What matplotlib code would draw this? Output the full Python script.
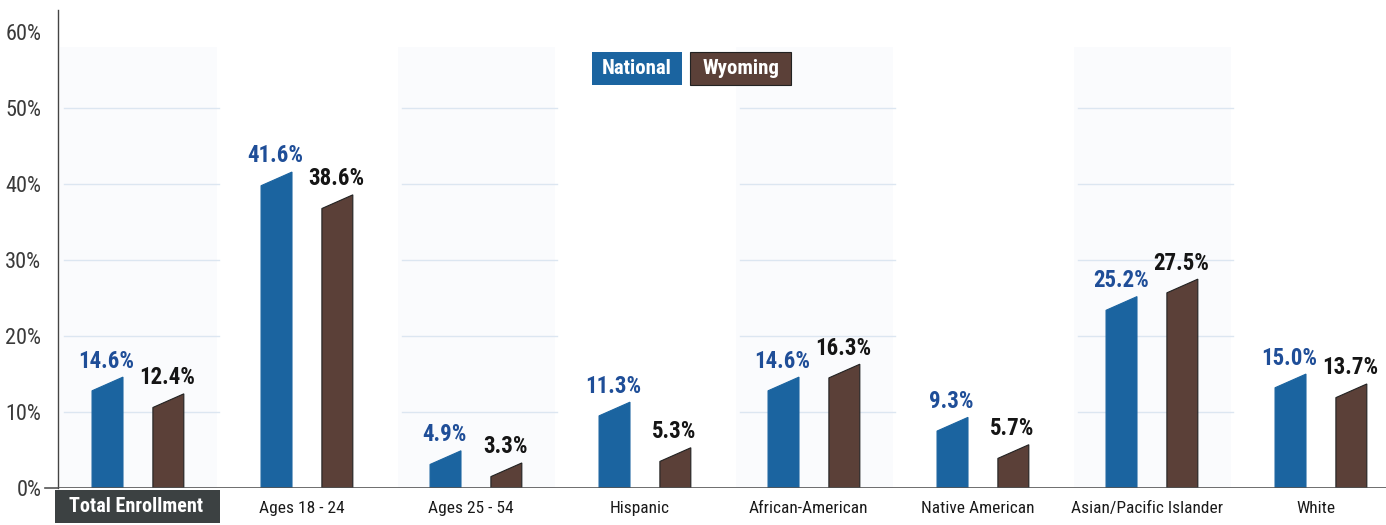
import matplotlib
matplotlib.use("Agg")
import matplotlib.pyplot as plt
from matplotlib.patches import Polygon, Rectangle
from matplotlib import font_manager

categories = ["Total Enrollment", "Ages 18 - 24", "Ages 25 - 54", "Hispanic",
              "African-American", "Native American", "Asian/Pacific Islander", "White"]
national = [14.6, 41.6, 4.9, 11.3, 14.6, 9.3, 25.2, 15.0]
wyoming = [12.4, 38.6, 3.3, 5.3, 16.3, 5.7, 27.5, 13.7]
yticks = [0, 10, 20, 30, 40, 50, 60]
series_names = ["National", "Wyoming"]

BLUE = "#1b64a0"
BROWN = "#5b4038"
BLUE_TXT = "#1f4e98"
names = {f.name for f in font_manager.fontManager.ttflist}
cands = ["Liberation Sans Narrow", "Roboto Condensed", "Roboto", "Liberation Sans"]
FONT = [c for c in cands if c in names][:1] + ["DejaVu Sans"]

fig = plt.figure(figsize=(13.86, 5.25), dpi=100)
ax = fig.add_axes([58/1386, 37/525, 1 - 58/1386, 479/525 - 0.001])
ax.set_xlim(-0.473, 7.385)
ax.set_ylim(0, 63)

# faint background columns with gridlines
for i in range(0, len(categories), 2):
    ax.add_patch(Rectangle((i - 0.46, 0), 0.93, 58, facecolor="#fafbfd",
                           edgecolor="none", zorder=0))
    for g in yticks[1:-1]:
        ax.plot([i - 0.44, i + 0.48], [g, g], color="#dce6f1", lw=1.0, zorder=1)

width = 0.183
offset = 0.18
slant = 1.8
for i, (n, w) in enumerate(zip(national, wyoming)):
    for val, dx, col, tcol in ((n, -offset, BLUE, BLUE_TXT), (w, offset, BROWN, "#151515")):
        x0 = i + dx - width / 2
        x1 = i + dx + width / 2
        poly = Polygon([(x0, 0), (x0, max(val - slant, 0.2)), (x1, val), (x1, 0)],
                       closed=True, facecolor=col, edgecolor="#222222" if col == BROWN else col,
                       lw=0.8, zorder=3)
        ax.add_patch(poly)
        ax.text(i + dx - 0.005, val + 0.6, f"{val:.1f}%", ha="center", va="bottom",
                fontsize=16.5, fontweight="bold", color=tcol, family=FONT, zorder=4)

# axes styling
for s in ["top", "right", "bottom"]:
    ax.spines[s].set_visible(False)
ax.spines["left"].set_color("#444444")
ax.spines["left"].set_linewidth(1.0)
ax.axhline(0, color="#555555", lw=1.2, zorder=5, xmin=0, xmax=1)
ax.plot([-0.55, -0.473], [0, 0], color="#555555", lw=1.2, clip_on=False)
ax.set_yticks(yticks)
ax.set_yticklabels([f"{t}%" for t in yticks], family=FONT, fontsize=16, color="#3a3a3a")
ax.tick_params(axis="y", length=0, pad=12)
ax.set_xticks([])

# category labels
for i, c in enumerate(categories):
    if i == 0:
        ax.add_patch(Rectangle((-0.49, -4.6), 0.975, 4.4, facecolor="#3c4142",
                               edgecolor="none", clip_on=False, zorder=6))
        ax.text(i - 0.01, -2.5, c, ha="center", va="center", fontsize=14.5,
                fontweight="bold", color="white", family=FONT, zorder=7, clip_on=False)
    else:
        ax.text(i - 0.03, -2.7, c, ha="center", va="center", fontsize=12.5,
                color="#1a1a1a", family=FONT, clip_on=False)

# legend boxes
leg = [(series_names[0], BLUE, 2.686, 0.533), (series_names[1], BROWN, 3.266, 0.60)]
for name, col, x, wdt in leg:
    ax.add_patch(Rectangle((x, 53.0), wdt, 4.4, facecolor=col, edgecolor="#222222" if col == BROWN else "none",
                           lw=0.8, zorder=4))
    ax.text(x + wdt / 2, 55.2, name, ha="center", va="center", fontsize=15,
            fontweight="bold", color="white", family=FONT, zorder=5)

fig.savefig("out.png", dpi=100, facecolor="white")
